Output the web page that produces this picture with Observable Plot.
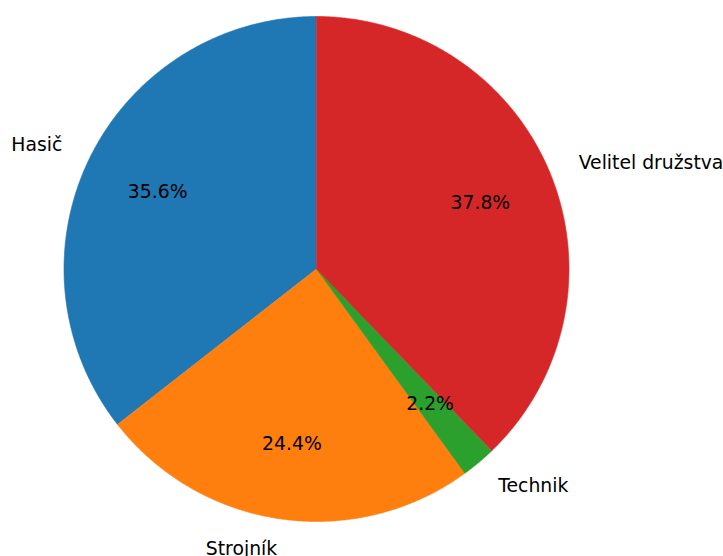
<!DOCTYPE html>
<html>
<head>
<meta charset="utf-8">
<script src="https://cdn.jsdelivr.net/npm/d3@7"></script>
<script src="https://cdn.jsdelivr.net/npm/@observablehq/plot@0.6"></script>
<style>
  html, body { margin: 0; padding: 0; background: #fff; }
  #chart svg { display: block; }
</style>
</head>
<body>
<div id="chart"></div>
<script>
// Data
const categories = ["Hasič", "Strojník", "Technik", "Velitel družstva"];
const counts = [16, 11, 1, 17];
const colors = ["#1f77b4", "#ff7f0e", "#2ca02c", "#d62728"];

// Pie layout (matplotlib style: startangle 90, counterclockwise)
const W = 723, H = 556;
const cx = 316, cy = 268.5, R = 252.5;
const total = d3.sum(counts);
const startDeg = 90;
const labelDist = 1.12, pctDist = 0.7;

let acc = 0;
const slices = categories.map((name, i) => {
  const a0 = startDeg + acc / total * 360;
  acc += counts[i];
  const a1 = startDeg + acc / total * 360;
  return {name, value: counts[i], a0, a1, mid: (a0 + a1) / 2, pct: counts[i] / total * 100};
});

const rad = d => d * Math.PI / 180;
const polyPts = [];
for (const s of slices) {
  polyPts.push({name: s.name, x: 0, y: 0});
  const n = Math.max(2, Math.ceil((s.a1 - s.a0) / 0.5));
  for (let k = 0; k <= n; k++) {
    const a = rad(s.a0 + (s.a1 - s.a0) * k / n);
    polyPts.push({name: s.name, x: Math.cos(a), y: Math.sin(a)});
  }
}

const labels = slices.map(s => ({
  name: s.name,
  x: labelDist * Math.cos(rad(s.mid)),
  y: labelDist * Math.sin(rad(s.mid))
}));
const pcts = slices.map(s => ({
  text: s.pct.toFixed(1) + "%",
  x: pctDist * Math.cos(rad(s.mid)),
  y: pctDist * Math.sin(rad(s.mid))
}));

const font = "DejaVu Sans, sans-serif";
const fs = 18.8;

const chart = Plot.plot({
  width: W,
  height: H,
  margin: 0,
  style: {fontFamily: font, background: "#fff"},
  x: {domain: [-cx / R, (W - cx) / R], axis: null},
  y: {domain: [-(H - cy) / R, cy / R], axis: null},
  color: {domain: categories, range: colors},
  marks: [
    Plot.line(polyPts, {x: "x", y: "y", z: "name", fill: "name", stroke: "name", strokeWidth: 0.6, curve: "linear-closed"}),
    Plot.text(labels.filter(d => d.x < 0), {x: "x", y: "y", text: "name", textAnchor: "end", fontSize: fs, fill: "#000"}),
    Plot.text(labels.filter(d => d.x >= 0), {x: "x", y: "y", text: "name", textAnchor: "start", fontSize: fs, fill: "#000"}),
    Plot.text(pcts, {x: "x", y: "y", text: "text", fontSize: fs, fill: "#000"})
  ]
});
document.getElementById("chart").appendChild(chart);
</script>
</body>
</html>
